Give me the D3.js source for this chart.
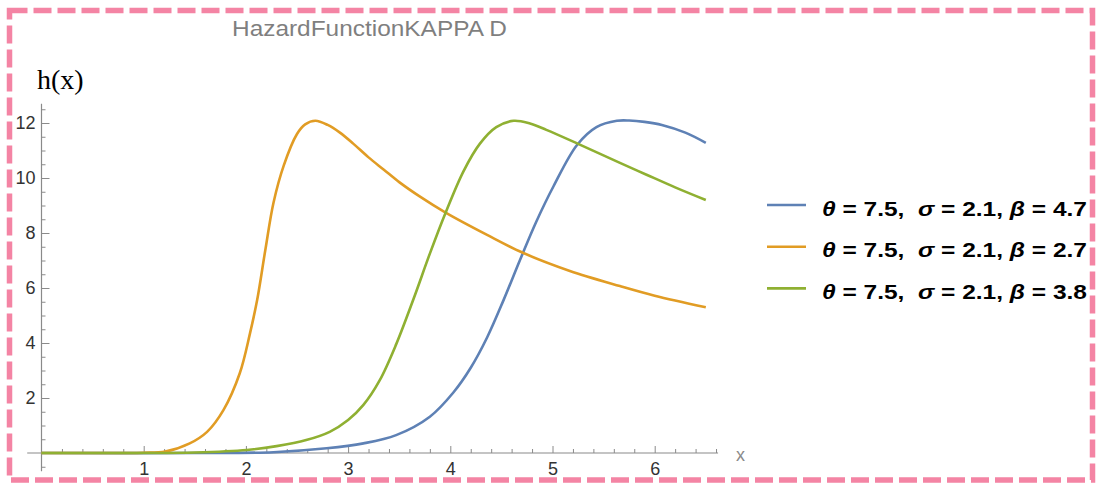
<!DOCTYPE html>
<html>
<head>
<meta charset="utf-8">
<script src="https://cdn.jsdelivr.net/npm/d3@7"></script>
<style>
  body { margin: 0; background: #fff; }
  svg { display: block; }
</style>
</head>
<body>
<div id="paper"></div>
<script>
// values, one x/y pair of arrays per curve
var blueX = [0, 1.5, 2.27, 2.79, 3.15, 3.47, 3.80, 4.03, 4.20, 4.36, 4.52, 4.68, 4.84, 5.01, 5.24, 5.43, 5.63, 5.75, 5.90, 6.07, 6.3, 6.5]
var blueY = [0, 0, 0.03, 0.17, 0.35, 0.65, 1.32, 2.2, 3.1, 4.2, 5.55, 7.0, 8.4, 9.7, 11.2, 11.85, 12.08, 12.09, 12.04, 11.93, 11.65, 11.28]

var orangeX = [0, 0.8, 1.0, 1.21, 1.45, 1.62, 1.78, 1.94, 2.04, 2.11, 2.19, 2.27, 2.37, 2.50, 2.58, 2.68, 2.80, 2.92, 3.05, 3.2, 3.35, 3.5, 3.7, 3.95, 4.36, 4.71, 5.17, 5.66, 6.0, 6.5]
var orangeY = [0, 0, 0.01, 0.05, 0.35, 0.77, 1.56, 2.9, 4.35, 5.56, 7.38, 9.1, 10.45, 11.6, 11.95, 12.08, 11.93, 11.65, 11.25, 10.75, 10.3, 9.85, 9.33, 8.75, 7.93, 7.28, 6.62, 6.07, 5.72, 5.30]

var greenX = [0, 1.0, 1.5, 2.01, 2.3, 2.59, 2.82, 3.0, 3.15, 3.31, 3.47, 3.64, 3.80, 3.95, 4.13, 4.29, 4.45, 4.62, 4.78, 4.94, 5.24, 5.66, 5.92, 6.2, 6.5]
var greenY = [0, 0, 0.02, 0.11, 0.25, 0.47, 0.77, 1.2, 1.75, 2.65, 3.95, 5.6, 7.25, 8.7, 10.25, 11.25, 11.85, 12.08, 11.98, 11.75, 11.26, 10.55, 10.12, 9.66, 9.2]

var legendLabels = [
  [['θ', true], [' = 7.5,  ', false], ['σ', true], [' = 2.1, ', false], ['β', true], [' = 4.7', false]],
  [['θ', true], [' = 7.5,  ', false], ['σ', true], [' = 2.1, ', false], ['β', true], [' = 2.7', false]],
  [['θ', true], [' = 7.5,  ', false], ['σ', true], [' = 2.1, ', false], ['β', true], [' = 3.8', false]]
]
var colors = ['#5E81B5', '#E19C24', '#8FB032']

var xMajor = [1, 2, 3, 4, 5, 6]
var xMinor = [0.2, 0.4, 0.6, 0.8, 1.2, 1.4, 1.6, 1.8, 2.2, 2.4, 2.6, 2.8, 3.2, 3.4, 3.6, 3.8,
              4.2, 4.4, 4.6, 4.8, 5.2, 5.4, 5.6, 5.8, 6.2, 6.4, 6.6]
var yMajor = [2, 4, 6, 8, 10, 12]
var yMinor = [-0.5, 0.5, 1, 1.5, 2.5, 3, 3.5, 4.5, 5, 5.5, 6.5, 7, 7.5, 8.5, 9, 9.5,
              10.5, 11, 11.5, 12.5]

var series = [
  {xs: blueX, ys: blueY},
  {xs: orangeX, ys: orangeY},
  {xs: greenX, ys: greenY}
]

var W = 1099, H = 489
var svg = d3.select('#paper').append('svg')
  .attr('width', W).attr('height', H)

// pink dashed frame
svg.append('rect')
  .attr('x', 9.5).attr('y', 10.5)
  .attr('width', 1083).attr('height', 469.5)
  .attr('fill', 'none')
  .attr('stroke', '#F484A4')
  .attr('stroke-width', 5.5)
  .attr('stroke-dasharray', '18,6')

var x = d3.scaleLinear().domain([0, 6.5]).range([41.5, 41.5 + 6.5 * 102.2])
var y = d3.scaleLinear().domain([0, 12]).range([453, 123])

var axisCol = '#8a8a8a'

// axis lines
svg.append('line')
  .attr('x1', x(-0.14)).attr('x2', x(6.62))
  .attr('y1', y(0)).attr('y2', y(0))
  .attr('stroke', axisCol).attr('stroke-width', 1.2)
svg.append('line')
  .attr('x1', x(0)).attr('x2', x(0))
  .attr('y1', y(-0.66)).attr('y2', y(12.7))
  .attr('stroke', axisCol).attr('stroke-width', 1.2)

function styleAxis(g) {
  g.select('.domain').remove()
  g.selectAll('line').attr('stroke', axisCol).attr('stroke-width', 1)
  g.selectAll('text')
    .attr('fill', '#333')
    .style('font-family', 'Arial, "Liberation Sans", sans-serif')
    .style('font-size', '18px')
}

// x ticks point up into the plot
svg.append('g').attr('transform', 'translate(0,' + y(0) + ')')
  .call(d3.axisBottom(x).tickValues(xMinor).tickSizeInner(-4).tickSizeOuter(0).tickFormat(''))
  .call(styleAxis)
svg.append('g').attr('transform', 'translate(0,' + y(0) + ')')
  .call(d3.axisBottom(x).tickValues(xMajor).tickSizeInner(-7).tickSizeOuter(0).tickPadding(9).tickFormat(d3.format('d')))
  .call(styleAxis)

// y ticks point right
svg.append('g').attr('transform', 'translate(' + x(0) + ',0)')
  .call(d3.axisLeft(y).tickValues(yMinor).tickSizeInner(-4).tickSizeOuter(0).tickFormat(''))
  .call(styleAxis)
svg.append('g').attr('transform', 'translate(' + x(0) + ',0)')
  .call(d3.axisLeft(y).tickValues(yMajor).tickSizeInner(-8).tickSizeOuter(0).tickPadding(6).tickFormat(d3.format('d')))
  .call(styleAxis)

// curves
var line = d3.line()
  .x(function(d) { return x(d[0]) })
  .y(function(d) { return y(d[1]) })
  .curve(d3.curveCatmullRom.alpha(0.5))

svg.append('g').selectAll('path')
  .data(series)
  .join('path')
  .attr('d', function(s) { return line(s.xs.map(function(v, i) { return [v, s.ys[i]] })) })
  .attr('fill', 'none')
  .attr('stroke', function(s, i) { return colors[i] })
  .attr('stroke-width', 2.6)
  .attr('stroke-linejoin', 'round')

// title and axis labels
svg.append('text')
  .attr('x', 232).attr('y', 36)
  .attr('fill', '#7f7f7f')
  .attr('textLength', 275)
  .attr('lengthAdjust', 'spacingAndGlyphs')
  .style('font-family', 'Arial, "Liberation Sans", sans-serif')
  .style('font-size', '22px')
  .text('HazardFunctionKAPPA D')

svg.append('text')
  .attr('x', 37).attr('y', 89)
  .attr('fill', '#000')
  .style('font-family', '"Times New Roman", "Liberation Serif", serif')
  .style('font-size', '28px')
  .text('h(x)')

svg.append('text')
  .attr('x', 736).attr('y', 461)
  .attr('fill', '#8a8a8a')
  .style('font-family', 'Arial, "Liberation Sans", sans-serif')
  .style('font-size', '18px')
  .text('x')

// legend
var legend = svg.append('g')
var rows = legend.selectAll('g')
  .data(legendLabels)
  .join('g')
  .attr('transform', function(d, i) { return 'translate(767,' + (205 + i * 41.7) + ')' })

rows.append('line')
  .attr('x1', 0).attr('x2', 39)
  .attr('stroke', function(d, i) { return colors[i] })
  .attr('stroke-width', 2.6)

rows.append('text')
  .attr('x', 55).attr('y', 10.5)
  .attr('fill', '#000')
  .attr('textLength', 265)
  .attr('lengthAdjust', 'spacingAndGlyphs')
  .style('font-family', 'Arial, "Liberation Sans", sans-serif')
  .style('font-size', '21px')
  .style('font-weight', 'bold')
  .style('white-space', 'pre')
  .selectAll('tspan')
  .data(function(d) { return d })
  .join('tspan')
  .style('font-style', function(p) { return p[1] ? 'italic' : 'normal' })
  .text(function(p) { return p[0] })
</script>
</body>
</html>
